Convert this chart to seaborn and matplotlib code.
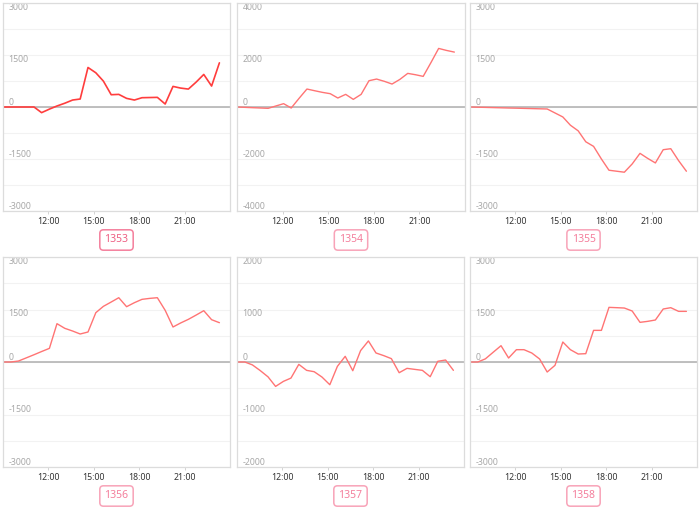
import matplotlib
matplotlib.use("Agg")
import matplotlib.pyplot as plt
import seaborn as sns
import pandas as pd
from matplotlib.ticker import FixedLocator, FuncFormatter

sns.set_theme(style="white")
plt.rcParams['font.family'] = ['Noto Sans', 'DejaVu Sans']

times = ["09:00", "09:31", "10:01", "10:32", "11:03", "11:33", "12:04", "12:34",
         "13:05", "13:36", "14:06", "14:37", "15:08", "15:38", "16:09", "16:39",
         "17:10", "17:41", "18:11", "18:42", "19:12", "19:43", "20:14", "20:44",
         "21:15", "21:46", "22:16", "22:47", "23:18"]

s1353 = [0, 0, 0, 0, 0, -163, -61, 29, 109, 201, 230, 1140, 987, 747, 354, 364,
         249, 201, 268, 273, 278, 86, 594, 546, 517, 720, 939, 604, 1274]
s1354 = [0, -13, -26, -38, -51, 38, 128, -38, 333, 691, 627, 563, 512, 346, 486, 294,
         486, 1011, 1075, 986, 883, 1062, 1293, 1242, 1178, 1715, 2253, 2176, 2112]
s1355 = [0, -6, -11, -17, -23, -29, -34, -40, -46, -52, -57, -172, -287, -525, -688,
         -1003, -1136, -1500, -1824, -1853, -1881, -1643, -1337, -1480, -1614, -1232,
         -1203, -1547, -1853]
s1356 = [0, 0, 27, 117, 208, 299, 390, 1095, 962, 885, 800, 857, 1409, 1590, 1714,
         1837, 1580, 1695, 1790, 1818, 1837, 1476, 1000, 1114, 1219, 1342, 1466, 1209, 1123]
s1357 = [0, 0, -55, -163, -283, -465, -369, -306, -45, -159, -185, -287, -433, -83, 108,
         -166, 217, 401, 172, 121, 64, -204, -121, -140, -159, -280, 13, 38, -159]
s1358 = [0, 0, 90, 279, 466, 114, 352, 352, 257, 86, -286, -95, 571, 352, 228, 238,
         904, 904, 1561, 1552, 1542, 1457, 1133, 1161, 1200, 1514, 1552, 1447, 1447]

names = ["1353", "1354", "1355", "1356", "1357", "1358"]
series = [s1353, s1354, s1355, s1356, s1357, s1358]
y_limits = [3000, 4000, 3000, 3000, 2000, 3000]
x_ticks = ["12:00", "15:00", "18:00", "21:00"]

def to_hours(t):
    h, m = t.split(":")
    return int(h) + int(m) / 60.0

hours = [to_hours(t) for t in times]

# panel boxes in pixels: (left, top, right, bottom)
boxes = [(3, 3, 230, 211), (237, 3, 465, 211), (470, 3, 697, 211),
         (3, 257, 230, 467), (237, 257, 464, 467), (470, 257, 697, 467)]

W, H = 700, 508
fig = plt.figure(figsize=(W / 100, H / 100), dpi=100)

for i, (name, vals, lim, box) in enumerate(zip(names, series, y_limits, boxes)):
    l, t, r, b = box
    ax = fig.add_axes([l / W, 1 - b / H, (r - l) / W, (b - t) / H])
    df = pd.DataFrame({"hour": hours, "value": vals})
    color = "#ff3d3d" if i == 0 else "#ff7474"
    sns.lineplot(data=df, x="hour", y="value", ax=ax, color=color,
                 linewidth=1.2 if i == 0 else 1.0)
    ax.set_xlim(9, 24)
    ax.set_ylim(-lim, lim)
    ax.set_xlabel("")
    ax.set_ylabel("")
    major = [-lim, -lim / 2, 0, lim / 2, lim]
    minor = [-lim * 3 / 4, -lim / 4, lim / 4, lim * 3 / 4]
    ax.yaxis.set_major_locator(FixedLocator(major))
    ax.yaxis.set_minor_locator(FixedLocator(minor))
    ax.yaxis.set_major_formatter(FuncFormatter(lambda v, p: f"{int(round(v))}"))
    ax.grid(True, axis="y", which="both", color="#f2f2f2", linewidth=0.8)
    ax.grid(False, axis="x")
    ax.tick_params(axis="y", which="both", length=0, pad=-4, labelsize=6.3,
                   labelcolor="#a8a8a8")
    for lab, v in zip(ax.get_yticklabels(), major):
        lab.set_horizontalalignment("left")
        lab.set_verticalalignment("top" if v > 0 else "bottom")
    ax.axhline(0, color="#b4b4b4", linewidth=1.2, zorder=1)
    ax.set_xticks([to_hours(t) for t in x_ticks])
    ax.set_xticklabels(x_ticks)
    ax.tick_params(axis="x", length=2.5, width=0.6, color="#cccccc", pad=2,
                   labelsize=6.3, labelcolor="#333333", direction="out")
    ax.xaxis.set_ticks_position("bottom")
    for sp in ax.spines.values():
        sp.set_visible(True)
        sp.set_color("#dcdcdc")
        sp.set_linewidth(0.9)
    ax.text(0.5, -29 / (b - t), name, transform=ax.transAxes, ha="center",
            va="center", fontsize=7.5, color="#ee5f83" if i == 0 else "#f47f9c",
            bbox=dict(boxstyle="round,pad=0.45,rounding_size=0.35", fc="white",
                      ec="#f47f9c" if i == 0 else "#f8a3b8", lw=1.1))

fig.savefig("out.png", dpi=100)
